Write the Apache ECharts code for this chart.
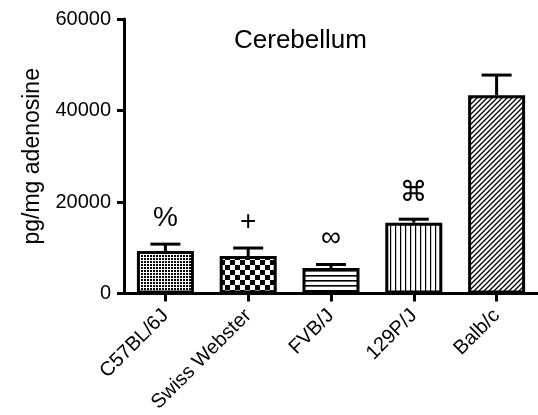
<!DOCTYPE html>
<html>
<head>
<meta charset="utf-8">
<script src="https://cdn.jsdelivr.net/npm/echarts@6/dist/echarts.min.js"></script>
<style>
html,body{margin:0;padding:0;background:#fff;}
#chart{width:538px;height:415px;}
</style>
</head>
<body>
<div id="chart"></div>
<script>
const categories = ['C57BL/6J', 'Swiss Webster', 'FVB/J', '129P/J', 'Balb/c'];
const means = [9300, 8200, 5600, 15500, 43350];
const sem = [1500, 1750, 750, 750, 4400];
const annotations = ['%', '+', '∞', '⌘', ''];
const yTicks = [0, 20000, 40000, 60000];

const FONT = '"Liberation Sans", Arial, "DejaVu Sans", sans-serif';

function makePattern(w, h, draw) {
  const c = document.createElement('canvas');
  c.width = w; c.height = h;
  const g = c.getContext('2d');
  g.fillStyle = '#fff'; g.fillRect(0, 0, w, h);
  g.fillStyle = '#000'; g.strokeStyle = '#000';
  draw(g, w, h);
  return { image: c, repeat: 'repeat' };
}

const patterns = [
  makePattern(3, 3, g => { g.fillRect(0, 0, 2, 2); }),
  makePattern(10, 10, g => { g.fillRect(0, 0, 5, 5); g.fillRect(5, 5, 5, 5); }),
  makePattern(4, 5, g => { g.fillRect(0, 0, 4, 1.6); }),
  makePattern(5, 4, g => { g.fillRect(0, 0, 1.2, 4); }),
  makePattern(5, 5, g => {
    g.lineWidth = 1.3;
    g.beginPath();
    g.moveTo(-1, 6); g.lineTo(6, -1);
    g.moveTo(-1, 1); g.lineTo(1, -1);
    g.moveTo(4, 6); g.lineTo(6, 4);
    g.stroke();
  })
];

const chart = echarts.init(document.getElementById('chart'), null, { renderer: 'canvas' });

const option = {
  animation: false,
  backgroundColor: '#fff',
  title: {
    text: 'Cerebellum',
    left: 229, top: 23,
    textStyle: { fontFamily: FONT, fontSize: 26, fontWeight: 'normal', color: '#000' }
  },
  grid: { left: 124, top: 19, bottom: 120, width: 417, containLabel: false },
  xAxis: {
    type: 'category',
    data: categories,
    axisLine: { lineStyle: { color: '#000', width: 3 } },
    axisTick: { show: true, alignWithLabel: true, length: 8, lineStyle: { color: '#000', width: 3 } },
    axisLabel: { rotate: 45, fontSize: 20, color: '#000', fontFamily: FONT, margin: 19, interval: 0 }
  },
  yAxis: {
    type: 'value',
    min: yTicks[0], max: yTicks[yTicks.length - 1], interval: yTicks[1] - yTicks[0],
    name: 'pg/mg adenosine',
    nameLocation: 'middle',
    nameGap: 77,
    nameRotate: 90,
    nameTextStyle: { fontSize: 23, color: '#000', fontFamily: FONT },
    splitLine: { show: false },
    axisLine: { show: true, lineStyle: { color: '#000', width: 3 } },
    axisTick: { show: true, length: 7, lineStyle: { color: '#000', width: 3 } },
    axisLabel: { fontSize: 20, color: '#000', fontFamily: FONT, margin: 13, formatter: v => String(v) }
  },
  series: [
    {
      type: 'bar',
      barWidth: 57,
      data: means.map((v, i) => ({
        value: v,
        itemStyle: { color: patterns[i], borderColor: '#000', borderWidth: 3 }
      }))
    },
    {
      type: 'custom',
      z: 5,
      data: categories.map((c, i) => [i, means[i], means[i] + sem[i]]),
      renderItem: function (params, api) {
        const i = params.dataIndex;
        const base = api.coord([api.value(0), api.value(1)]);
        const top = api.coord([api.value(0), api.value(2)]);
        const half = 15;
        const st = { stroke: '#000', lineWidth: 3 };
        const children = [
          { type: 'line', shape: { x1: base[0], y1: base[1], x2: top[0], y2: top[1] }, style: st },
          { type: 'line', shape: { x1: top[0] - half, y1: top[1], x2: top[0] + half, y2: top[1] }, style: st }
        ];
        if (annotations[i]) {
          children.push({
            type: 'text',
            style: {
              text: annotations[i], x: top[0], y: top[1] - 26,
              textAlign: 'center', textVerticalAlign: 'middle',
              fontSize: 28, fontFamily: FONT, fill: '#000'
            }
          });
        }
        return { type: 'group', children: children };
      }
    }
  ]
};
chart.setOption(option);
</script>
</body>
</html>
